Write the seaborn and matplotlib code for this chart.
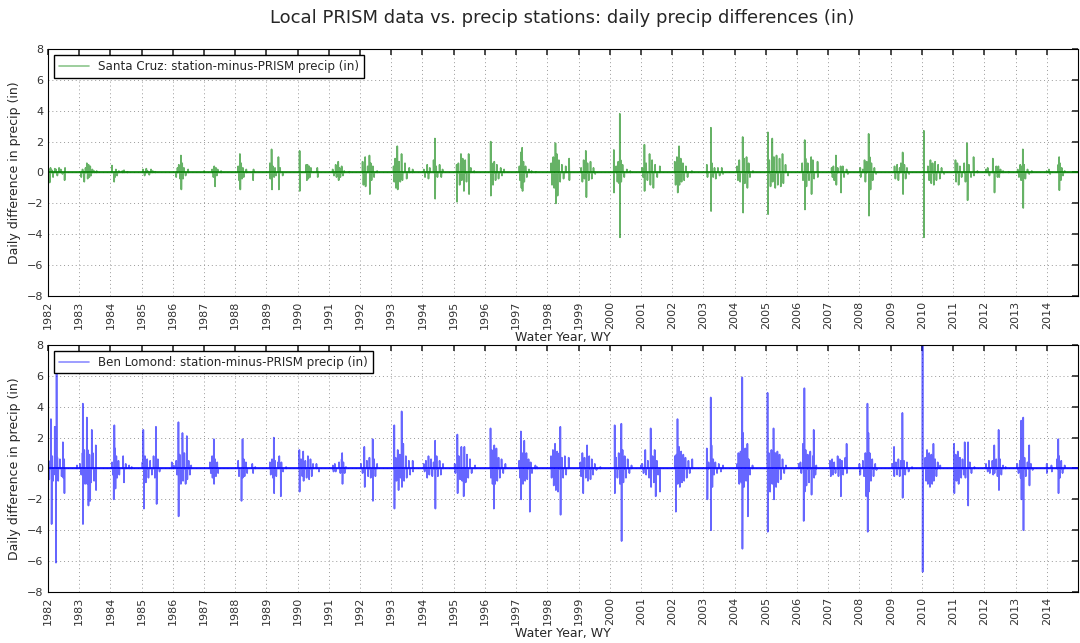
import pandas as pd
import seaborn as sns
import matplotlib.pyplot as plt
import matplotlib.dates as mdates

# water years shown on the x axis
years = list(range(1982, 2015))

# (day of water year, station-minus-PRISM precip in inches), one list per water year
santa_cruz = [
    [(12, 0.2), (20, -0.65), (30, 0.3), (45, 0.15), (60, -0.3), (80, 0.25), (95, 0.2), (110, -0.2), (130, 0.3), (150, 0.2), (170, -0.1), (195, -0.5), (200, 0.3)],
    [(25, -0.3), (40, 0.2), (60, -0.6), (75, 0.3), (90, 0.6), (100, -0.4), (110, 0.5), (120, -0.3), (130, 0.4), (140, -0.2), (155, 0.2), (175, 0.1), (205, 0.1)],
    [(20, 0.45), (45, -0.6), (55, -0.3), (65, 0.2), (80, -0.2), (100, 0.1), (140, 0.1), (160, 0.15), (200, 0.05)],
    [(15, 0.2), (35, -0.2), (55, 0.25), (70, 0.1), (90, -0.15), (110, 0.2), (130, 0.1), (160, 0.05)],
    [(40, -0.3), (55, 0.3), (70, 0.5), (85, -0.4), (95, 1.1), (100, -1.1), (110, 0.6), (120, -0.4), (130, 0.3), (150, -0.2), (180, 0.2)],
    [(2, 0.1), (95, 0.2), (110, -0.3), (120, 0.4), (130, -0.9), (140, 0.3), (150, -0.2), (160, 0.2), (200, 0.1)],
    [(35, 0.4), (45, -0.5), (55, 1.2), (60, -1.1), (70, 0.6), (80, -0.4), (90, 0.3), (100, -0.3), (130, 0.2), (210, -0.5), (215, 0.2)],
    [(40, 0.6), (45, -0.4), (60, 1.5), (65, -1.1), (75, 0.4), (90, -0.3), (100, 0.3), (110, -0.2), (140, 1.0), (145, -1.1), (160, 0.3), (190, -0.2)],
    [(23, 1.4), (25, -1.2), (100, 0.5), (108, -0.5), (115, 0.5), (125, -0.4), (135, 0.4), (145, -0.3), (155, 0.3), (230, 0.3), (235, -0.3)],
    [(45, 0.2), (60, -0.2), (80, 0.5), (90, -0.3), (110, 0.7), (115, -0.5), (125, 0.3), (135, -0.3), (150, 0.4), (165, -0.2), (180, 0.1), (240, 0.05)],
    [(30, 0.7), (40, -0.8), (60, 1.0), (65, -0.9), (90, 0.4), (110, 1.1), (115, -1.4), (125, 0.6), (135, -0.5), (150, 0.4), (165, -0.3), (200, 0.1)],
    [(27, 0.4), (35, -0.6), (45, 0.9), (55, -1.0), (70, 1.7), (75, -1.1), (90, 0.7), (105, -0.6), (120, 1.2), (130, -0.5), (160, 0.6), (180, -0.4), (210, 0.3), (250, 0.2)],
    [(15, 0.2), (30, -0.3), (55, 0.5), (70, -0.4), (85, 0.3), (130, 0.8), (145, 2.2), (148, -1.7), (160, 0.4), (175, -0.3), (200, 0.5), (220, -0.3), (235, 0.2)],
    [(35, 0.5), (40, -1.9), (55, 0.6), (70, -0.8), (85, 1.2), (95, -0.5), (105, 0.9), (120, -1.2), (135, 0.8), (150, -0.6), (175, 1.2), (180, -1.4), (200, 0.3), (240, 0.1)],
    [(68, 2.0), (70, -1.5), (80, 0.6), (95, -0.8), (110, 0.7), (125, -0.5), (140, 0.5), (160, -0.4), (185, 0.3), (200, -0.2), (225, 0.2)],
    [(38, 0.4), (45, -0.5), (55, 1.3), (62, -1.0), (70, 1.6), (75, -1.2), (85, 0.7), (95, -0.6), (110, 0.4), (125, -0.3), (150, 0.2), (180, 0.1), (230, 0.05)],
    [(45, 0.6), (55, -0.8), (70, 1.0), (80, -1.0), (95, 1.9), (100, -2.0), (110, 1.2), (120, -1.5), (135, 0.8), (150, -0.6), (170, 0.5), (190, -0.4), (215, 0.4), (255, 0.9), (258, -0.5)],
    [(30, 0.3), (45, -0.6), (60, 0.8), (70, -0.4), (85, 1.4), (92, -1.6), (105, 0.6), (120, -0.5), (140, 0.7), (155, -0.4), (175, 0.3), (195, -0.1)],
    [(48, 1.46), (50, -1.3), (75, 0.4), (90, -0.6), (100, 0.7), (110, -0.7), (118, 3.8), (120, -4.2), (128, 0.8), (135, -0.6), (150, 0.5), (170, -0.3), (200, 0.2), (240, 0.1)],
    [(15, 0.3), (25, -0.3), (40, 1.8), (42, -1.2), (60, 0.6), (75, -0.5), (100, 1.2), (110, -0.8), (130, 0.8), (145, -1.0), (165, 0.5), (190, -0.3), (220, 0.4)],
    [(30, 0.7), (40, -0.8), (55, 1.0), (65, -1.3), (80, 1.7), (85, -0.8), (100, 0.9), (110, -0.6), (125, 0.6), (140, -0.5), (160, 0.4), (180, -0.3), (230, 0.1)],
    [(40, 0.5), (48, -0.3), (88, 2.9), (90, -2.5), (100, 0.6), (115, -0.3), (130, 0.3), (145, -0.4), (170, 0.3), (190, -0.2), (215, 0.3), (230, -0.1)],
    [(30, 0.4), (40, -0.5), (55, 0.8), (65, -0.6), (95, 2.3), (100, -2.6), (110, 0.9), (120, -0.7), (140, 1.0), (150, -1.0), (165, 0.6), (180, -0.3), (215, 0.1)],
    [(24, 2.6), (26, -2.7), (40, 0.8), (55, -0.9), (75, 2.2), (80, -0.6), (95, 1.0), (110, -1.0), (125, 1.1), (140, -0.8), (160, 0.9), (175, -0.9), (195, 1.2), (205, -0.7), (230, 0.5), (260, -0.2)],
    [(60, 0.6), (70, -0.5), (90, 2.1), (93, -2.4), (100, 0.9), (110, -0.9), (125, 0.6), (140, -0.5), (165, 1.0), (170, -1.4), (185, 0.8), (200, -0.4), (240, 0.7), (243, -0.3)],
    [(40, 0.3), (50, -0.3), (60, 0.4), (70, -0.5), (90, 1.1), (95, -0.8), (110, 0.3), (145, 0.4), (150, -1.3), (170, 0.4), (185, -0.3), (215, 0.2), (230, -0.1)],
    [(10, 0.3), (15, -0.3), (40, 0.2), (60, 0.8), (70, -0.6), (85, 0.7), (108, 2.5), (112, -2.8), (120, 1.0), (130, -1.1), (140, 0.6), (155, -0.5), (175, 0.3), (195, -0.1)],
    [(45, 0.4), (55, -0.4), (75, 0.5), (90, -0.5), (105, 0.3), (120, 0.6), (140, 1.3), (145, -1.4), (160, 0.5), (175, -0.4), (190, 0.3), (215, -0.1)],
    [(23, 2.7), (24, -4.2), (70, 0.4), (85, -0.5), (100, 0.8), (110, -0.7), (125, 0.6), (140, -0.8), (155, 0.7), (170, -0.5), (190, 0.5), (210, -0.4), (230, 0.3), (260, -0.1)],
    [(28, 0.8), (35, -0.6), (50, 0.6), (65, -0.8), (80, 0.4), (100, -0.3), (130, 0.6), (145, -0.6), (165, 1.9), (170, -1.8), (185, 0.5), (210, -0.3), (240, 1.0), (245, -0.2), (285, 0.1)],
    [(20, 0.2), (40, 0.3), (60, -0.2), (100, 0.9), (120, -1.3), (140, 0.4), (155, -0.3), (165, 0.4), (175, -0.3), (190, 0.2), (220, 0.1), (285, 0.05)],
    [(25, 0.2), (40, -0.3), (55, 0.5), (65, -0.5), (75, 0.4), (85, 1.5), (90, -2.3), (100, 0.5), (115, -0.4), (140, 0.2), (160, -0.1), (190, 0.1)],
    [(0, 0.1), (25, 0.2), (40, -0.1), (135, 0.5), (145, 1.0), (148, -1.15), (155, 0.6), (165, -0.5), (175, 0.3), (190, -0.2), (210, 0.1)],
]

ben_lomond = [
    [(8, 0.5), (15, -0.7), (35, 3.2), (43, -3.6), (50, 0.8), (60, -0.8), (80, 2.7), (85, -0.4), (94, -6.1), (101, 6.2), (110, 0.7), (120, -0.8), (140, 0.6), (160, -0.5), (175, 1.7), (180, -0.6), (190, 0.6), (193, -1.6), (340, 0.2)],
    [(10, 0.3), (25, -0.4), (40, 1.0), (43, 4.2), (45, -3.6), (60, 1.2), (70, -1.0), (90, 3.3), (95, -1.0), (100, 1.2), (109, -2.4), (120, 0.9), (129, -2.1), (140, -0.9), (148, 2.5), (160, 1.0), (175, -0.8), (195, 1.5), (198, -1.4)],
    [(20, 0.4), (30, -0.4), (40, -2.0), (47, 2.8), (55, 1.3), (60, -1.3), (70, 0.8), (80, -0.6), (95, 0.5), (105, -0.4), (150, 0.8), (160, -0.9), (180, 0.3), (220, 0.2), (250, 0.1)],
    [(10, 0.4), (20, 2.5), (27, -2.6), (40, 0.8), (50, -0.9), (65, 0.6), (80, -0.6), (100, 0.5), (120, -0.4), (140, 0.8), (155, -0.6), (168, 2.7), (176, -2.3), (190, 0.6), (210, -0.2), (353, 0.4)],
    [(10, 0.2), (40, 0.5), (50, -0.4), (66, 3.0), (68, -3.1), (80, 0.9), (95, -1.0), (113, 2.3), (120, -0.8), (135, 1.0), (150, -1.0), (164, 2.1), (170, -0.7), (185, 0.5), (200, -0.4), (215, 0.2)],
    [(70, 0.4), (80, -0.3), (95, 0.8), (100, -0.6), (115, 1.9), (118, -1.0), (130, 0.6), (140, -0.5), (155, 0.4), (165, -0.3)],
    [(35, 0.5), (45, -0.5), (74, -2.1), (86, 1.9), (88, -0.6), (100, 0.6), (110, -0.5), (125, 0.4), (140, -0.3), (200, 0.3), (210, -0.3), (235, 0.1)],
    [(40, 0.4), (50, -0.4), (65, 0.6), (75, -0.6), (86, 2.0), (90, -1.6), (100, 0.5), (115, -0.5), (135, 0.4), (150, 0.8), (168, -1.8), (175, 0.4), (195, -0.2), (230, 0.1)],
    [(20, 1.2), (23, -1.5), (40, 0.6), (55, -0.5), (65, 1.1), (70, -0.8), (90, 0.5), (105, -0.6), (120, 0.8), (135, -0.7), (150, 0.6), (165, -0.5), (180, 0.3), (220, 0.3), (250, -0.2)],
    [(47, 0.2), (55, -0.2), (70, 0.3), (80, -0.2), (120, 0.4), (135, -0.3), (150, 0.6), (156, 1.0), (160, -1.0), (170, 0.4), (185, -0.3), (200, 0.1)],
    [(12, 0.3), (30, -0.3), (50, 1.4), (55, -1.2), (80, 0.5), (95, -0.5), (110, 0.7), (125, -0.6), (148, 1.9), (151, -2.1), (165, 0.6), (180, -0.5), (200, 0.3)],
    [(35, 2.8), (37, -2.6), (50, 0.7), (60, -0.8), (75, 1.2), (85, -1.4), (100, 0.9), (110, -0.6), (121, 3.7), (125, -1.2), (140, 1.6), (150, -0.8), (170, 0.8), (180, -0.6), (205, 0.5), (220, -0.4), (250, 0.5), (255, -0.2)],
    [(15, 0.3), (25, -0.2), (40, 0.5), (55, -0.6), (70, 0.8), (80, -0.4), (100, 0.6), (115, -0.5), (130, 0.4), (148, 1.8), (151, -2.6), (165, 0.8), (180, -0.5), (200, 0.5), (215, -0.4), (240, 0.3)],
    [(12, 0.3), (20, -0.3), (43, 2.2), (46, -1.6), (60, 0.8), (75, -0.7), (90, 1.4), (100, -0.8), (117, -1.8), (125, 1.4), (140, -0.9), (155, 0.9), (170, -0.6), (190, 0.6), (210, -0.3), (250, 0.2)],
    [(66, 2.6), (70, -0.6), (80, 1.2), (90, -1.0), (105, -2.6), (110, 1.5), (120, -1.0), (135, 1.3), (145, -0.8), (160, 0.7), (175, -0.6), (195, 0.6), (215, -0.3), (240, 0.3)],
    [(35, 0.5), (45, -0.6), (55, 2.4), (58, -2.0), (70, 1.0), (80, -1.0), (95, 1.8), (105, -0.8), (120, 1.0), (130, -0.7), (145, 0.6), (160, -2.8), (170, 0.4), (185, -0.3), (225, 0.2), (245, 0.1)],
    [(43, 0.8), (50, -0.6), (65, 1.2), (75, -1.1), (90, 1.6), (100, -1.4), (115, 1.1), (125, -1.5), (140, 1.0), (152, 2.7), (155, -3.0), (170, 0.7), (185, -0.6), (205, 0.8), (220, -0.4), (250, 0.7)],
    [(20, 0.4), (30, -0.5), (45, 1.0), (55, -1.6), (70, 0.7), (85, -0.6), (100, 1.5), (110, -0.8), (125, 0.8), (140, -0.7), (155, 0.6), (170, -0.4), (190, 0.3), (210, -0.1), (255, 0.1)],
    [(58, 2.8), (60, -1.6), (75, 0.7), (90, -0.6), (105, 1.0), (120, -1.0), (136, 2.9), (139, -4.7), (150, 1.2), (160, -0.9), (175, 0.8), (190, -0.6), (210, 0.6), (230, -0.3), (255, 0.2)],
    [(0, 0.2), (15, 0.3), (30, -0.3), (50, 1.2), (60, -0.4), (80, 0.5), (95, -0.6), (113, 2.6), (118, -1.2), (135, 0.8), (150, -0.9), (160, 1.2), (172, -1.8), (185, 0.5), (200, -0.4), (222, -1.5)],
    [(31, 0.8), (43, -2.8), (50, 0.9), (62, 3.2), (65, -1.0), (80, 1.4), (90, -1.2), (105, 1.1), (115, -0.9), (130, 0.9), (140, -0.8), (155, 0.7), (170, -0.6), (190, 0.5), (205, -0.3), (235, 0.6)],
    [(40, 1.3), (47, -2.0), (60, 0.4), (86, 4.6), (89, -4.0), (95, 1.5), (105, -1.2), (115, 0.6), (125, -0.4), (140, 0.4), (160, -0.3), (180, 0.3), (205, -0.2), (230, 0.2)],
    [(30, 0.3), (45, 1.0), (55, -1.0), (70, 1.1), (80, -0.9), (90, 5.9), (92, -5.2), (100, 2.3), (110, -1.2), (125, 1.3), (135, -0.8), (150, 1.6), (156, -3.1), (165, 0.6), (180, -0.4), (210, 0.2)],
    [(20, 4.9), (22, -4.1), (35, 1.0), (50, -1.5), (65, 1.2), (75, -1.0), (90, 2.6), (95, -2.0), (110, 1.0), (120, -1.2), (135, 1.1), (145, -0.9), (160, 0.9), (175, -0.7), (195, 0.6), (215, -0.3), (235, 0.2)],
    [(20, 0.3), (40, 0.4), (50, -0.3), (70, 1.6), (78, -3.4), (86, 5.2), (90, -1.5), (100, 1.2), (110, -1.1), (125, 0.9), (140, -0.9), (155, 1.1), (170, -1.7), (185, 0.8), (195, 2.5), (200, -0.6), (215, -0.4), (225, 0.2)],
    [(20, 0.5), (30, -0.5), (45, 0.6), (55, -0.4), (70, 0.4), (85, -0.3), (110, 0.8), (120, -0.5), (135, 0.6), (148, -1.8), (160, 0.5), (175, -0.4), (200, 0.7), (215, 1.6), (218, -0.3)],
    [(0, 0.3), (10, -0.4), (40, 0.5), (55, -0.5), (70, 1.0), (80, -1.8), (94, 4.2), (97, -4.1), (105, 2.3), (110, -1.5), (120, 1.0), (135, -0.8), (150, 0.6), (165, -0.5), (185, 0.3), (200, -0.1)],
    [(20, 0.3), (39, 1.4), (42, -0.5), (60, 0.4), (75, -0.4), (90, 0.6), (105, -0.5), (120, 0.5), (137, 3.6), (140, -1.9), (155, 0.5), (170, -0.4), (190, 0.4), (210, -0.2), (250, 0.1)],
    [(8, 8.2), (9, -6.7), (40, 0.7), (50, -0.8), (60, 1.2), (70, -1.0), (85, 1.0), (95, -1.2), (110, 0.9), (120, -1.0), (135, 1.6), (140, -0.8), (155, 0.6), (170, -0.5), (185, 0.4), (215, 0.2)],
    [(12, 1.6), (15, -1.6), (30, 0.9), (40, -0.8), (55, 1.1), (65, -1.0), (80, 0.7), (95, -0.6), (110, 0.6), (125, -0.4), (136, 1.7), (145, -0.6), (175, 1.7), (177, -2.4), (195, 0.4), (215, -0.3), (250, 0.1)],
    [(20, 0.3), (40, -0.2), (55, 0.5), (65, -0.3), (95, 0.5), (105, -0.4), (117, 1.5), (120, -0.3), (140, 0.6), (155, -0.5), (168, 2.5), (172, -1.4), (185, 0.6), (200, -0.4), (220, 0.2), (250, 0.1)],
    [(20, 0.3), (35, -0.3), (50, 0.5), (60, -0.6), (66, 3.1), (70, -2.0), (80, 0.8), (90, 3.3), (93, -4.0), (105, 0.7), (120, -0.5), (140, 0.4), (160, 1.5), (163, -1.1), (180, 0.3), (200, -0.1)],
    [(0, 0.3), (2, -0.3), (55, 0.2), (60, -0.2), (120, 0.6), (135, 1.9), (138, -1.6), (145, 0.8), (155, -0.6), (170, 0.5), (185, -0.3), (210, 0.2)],
]


def daily_series(spikes):
    days = pd.date_range("1981-10-01", "2014-09-30", freq="D")
    s = pd.Series(0.0, index=days)
    for wy, pairs in zip(years, spikes):
        start = pd.Timestamp(f"{wy - 1}-10-01")
        for d, v in pairs:
            s[start + pd.Timedelta(days=d)] = v
    return s


sns.set_theme(style="white")
plt.rcParams.update({
    "font.family": ["DejaVu Sans"],
    "axes.edgecolor": "black",
    "axes.linewidth": 0.8,
    "xtick.direction": "in",
    "ytick.direction": "in",
    "xtick.top": True,
    "ytick.right": True,
    "xtick.major.size": 4,
    "ytick.major.size": 4,
    "xtick.color": "#333333",
    "ytick.color": "#333333",
})

fig = plt.figure(figsize=(10.8, 6.43), dpi=100)
ax1 = fig.add_axes([0.0444, 0.5397, 0.9536, 0.3841])
ax2 = fig.add_axes([0.0444, 0.0793, 0.9536, 0.3842])

panels = [
    (ax1, santa_cruz, "#008000", "Santa Cruz: station-minus-PRISM precip (in)"),
    (ax2, ben_lomond, "#0000ff", "Ben Lomond: station-minus-PRISM precip (in)"),
]

tick_pos = [mdates.date2num(pd.Timestamp(f"{y - 1}-10-01")) for y in years]

for ax, spikes, color, label in panels:
    s = daily_series(spikes)
    sns.lineplot(x=s.index, y=s.values, ax=ax, color=color, alpha=0.6,
                 lw=1.2, label=label, estimator=None, sort=False)
    ax.axhline(0, color=color, lw=1.1)
    ax.set_ylim(-8, 8)
    ax.set_yticks(range(-8, 9, 2))
    ax.set_xlim(mdates.date2num(s.index[0]), mdates.date2num(s.index[-1]))
    ax.set_xticks(tick_pos)
    ax.set_xticklabels([str(y) for y in years], rotation=90, fontsize=8)
    ax.tick_params(axis="y", labelsize=8)
    ax.grid(True, color="0.6", linestyle=(0, (1, 3)), linewidth=0.7)
    ax.set_xlabel("Water Year, WY", fontsize=9, labelpad=1)
    ax.set_ylabel("Daily difference in precip (in)", fontsize=9)
    leg = ax.legend(loc="upper left", fontsize=8.6, fancybox=False, edgecolor="black",
                    framealpha=1, handlelength=2.5, borderaxespad=0.5)
    leg.get_lines()[0].set_alpha(0.45)

fig.text(0.521, 0.972, "Local PRISM data vs. precip stations: daily precip differences (in)",
         ha="center", va="center", fontsize=13)

fig.savefig("out.png", dpi=100)
